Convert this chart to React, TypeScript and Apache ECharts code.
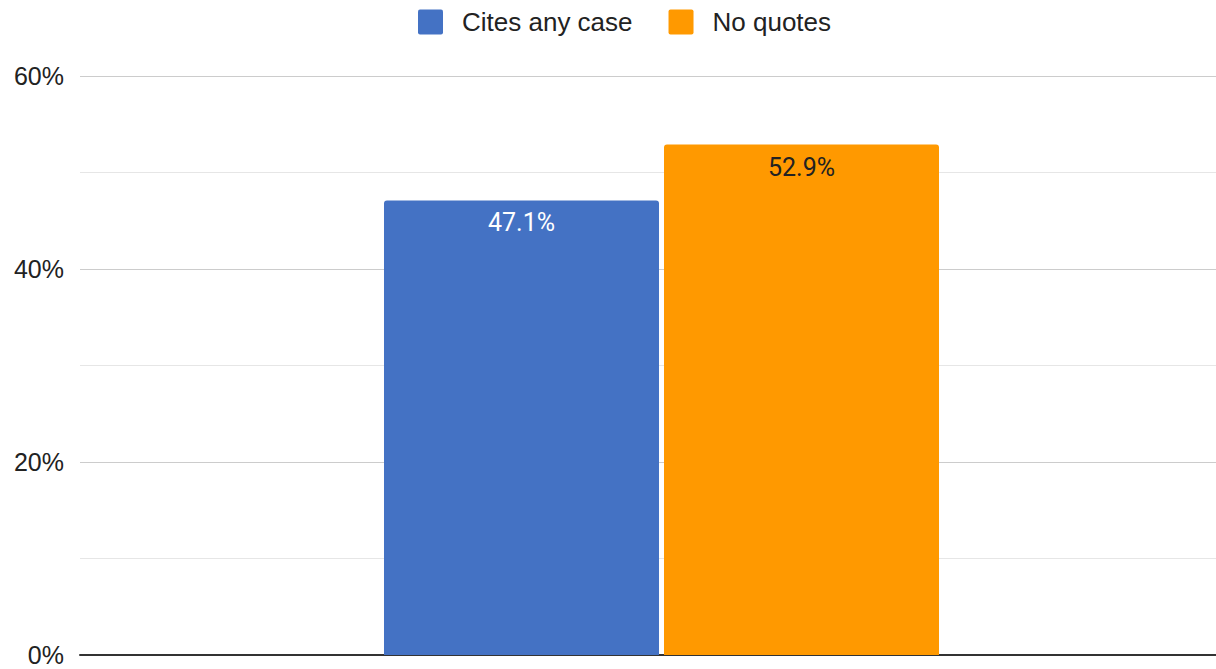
import React, { useEffect, useRef } from "react";
import * as echarts from "echarts";

const categories = [""];
const seriesNames = ["Cites any case", "No quotes"];
const citesAnyCase = [47.1];
const noQuotes = [52.9];
const yTicks = [0, 20, 40, 60];

export default function App() {
  const ref = useRef<HTMLDivElement>(null);
  useEffect(() => {
    if (!ref.current) return;
    const chart = echarts.init(ref.current, null, { renderer: "svg" });
    const arial = "'Liberation Sans', Arial, Helvetica, sans-serif";
    const roboto = "Roboto, Arial, sans-serif";
    const icon =
      "path://M2,0H23A2,2,0,0,1,25,2V23A2,2,0,0,1,23,25H2A2,2,0,0,1,0,23V2A2,2,0,0,1,2,0Z";
    chart.setOption({
      animation: false,
      textStyle: { fontFamily: arial },
      legend: {
        top: 4,
        left: 413,
        itemWidth: 25,
        itemHeight: 25,
        itemGap: 36,
        icon,
        textStyle: { fontSize: 26, color: "#222", fontFamily: arial, padding: [0, 0, 0, 14] },
        data: seriesNames,
      },
      grid: { left: 80, right: 0, top: 76, bottom: 14, containLabel: false },
      xAxis: {
        type: "category",
        data: categories,
        axisTick: { show: false },
        axisLabel: { show: false },
        axisLine: { show: true, lineStyle: { color: "#333", width: 2 } },
      },
      yAxis: {
        type: "value",
        min: yTicks[0],
        max: yTicks[yTicks.length - 1],
        interval: 20,
        axisLine: { show: false },
        axisTick: { show: false },
        axisLabel: {
          formatter: "{value}%",
          fontSize: 25,
          lineHeight: 18,
          color: "#222",
          margin: 16,
          fontFamily: arial,
        },
        splitLine: { show: true, lineStyle: { color: "#cccccc", width: 1 } },
        minorTick: { show: false, splitNumber: 2 },
        minorSplitLine: { show: true, lineStyle: { color: "#e6e6e6", width: 1 } },
      },
      series: [
        {
          name: seriesNames[0],
          type: "bar",
          data: citesAnyCase,
          barWidth: 275,
          barGap: "1.82%",
          itemStyle: { color: "#4472c4", borderRadius: [3, 3, 0, 0] },
          label: {
            show: true,
            position: "insideTop",
            distance: 10,
            formatter: "{c}%",
            fontSize: 25,
            color: "#ffffff",
            fontFamily: roboto,
          },
        },
        {
          name: seriesNames[1],
          type: "bar",
          data: noQuotes,
          barWidth: 275,
          itemStyle: { color: "#ff9900", borderRadius: [3, 3, 0, 0] },
          label: {
            show: true,
            position: "insideTop",
            distance: 10,
            formatter: "{c}%",
            fontSize: 25,
            color: "#222222",
            fontFamily: roboto,
          },
        },
      ],
    });
    return () => chart.dispose();
  }, []);
  return (
    <div
      ref={ref}
      style={{ position: "fixed", left: 0, top: 0, width: 1243, height: 669, background: "#fff" }}
    />
  );
}
